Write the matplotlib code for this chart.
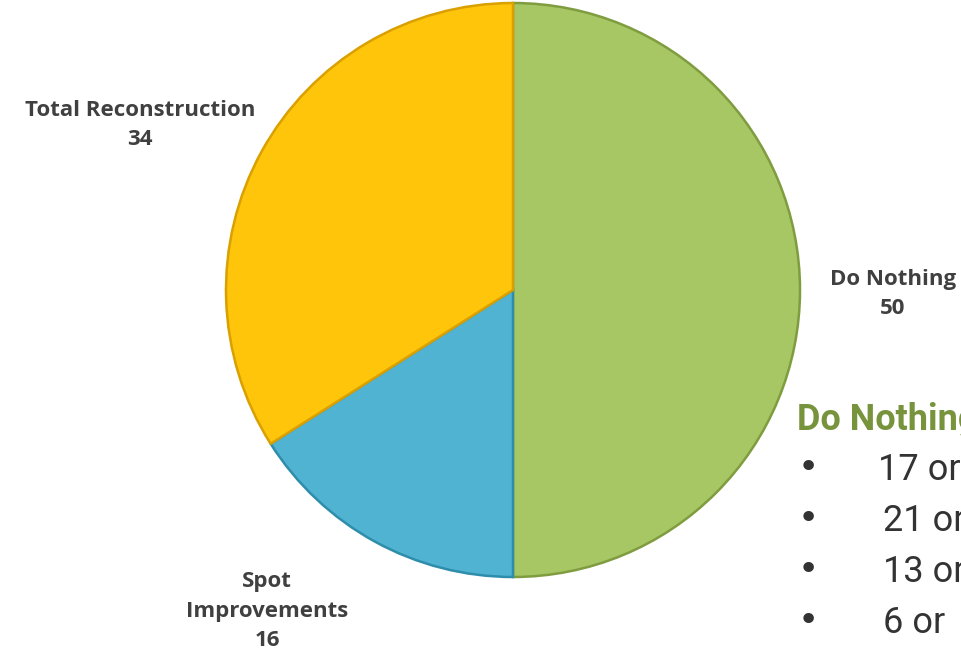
import matplotlib.pyplot as plt

# pie data
labels = ['Do Nothing', 'Spot\nImprovements', 'Total Reconstruction']
values = [50, 16, 34]
colors = ['#A7C765', '#4FB3D1', '#FFC50A']
edges = ['#7F9C3F', '#2E8DAB', '#D9A000']

# side text (cut off at the right edge in the original)
side_title = 'Do Nothing'
side_items = ['17 or', '21 or', '13 or', '6 or']

W, H = 961, 658
fig = plt.figure(figsize=(W / 100, H / 100), dpi=100)
ax = fig.add_axes([0, 0, 1, 1])

def yy(y):
    # image row -> data y
    return H - y

wedges, _ = ax.pie(values, colors=colors, startangle=90, counterclock=False,
                   center=(513, yy(290)), radius=287, frame=True,
                   wedgeprops=dict(linewidth=1.8))
for w, ec in zip(wedges, edges):
    w.set_edgecolor(ec)
ax.set_xlim(0, W)
ax.set_ylim(0, H)
ax.set_aspect('equal')
ax.axis('off')

lab_font = dict(family='Open Sans', weight='bold', color='#404040',
                fontsize=16, ha='center', va='center', linespacing=1.55)
ax.text(893, yy(294), f'{labels[0]}\n{values[0]}', **lab_font)
ax.text(267, yy(611), f'{labels[1]}\n{values[1]}', **lab_font)
ax.text(140, yy(125), f'{labels[2]}\n{values[2]}', **lab_font)

ax.text(797, yy(420), side_title, family='Roboto', weight='bold', color='#77933C',
        fontsize=26, ha='left', va='center')
for i, item in enumerate(side_items):
    y = yy(470 + i * 51)
    ax.text(808, y + 2, '\u2022', family='DejaVu Sans', color='#333333',
            fontsize=26, ha='center', va='center')
    x0 = 878 if i == 0 else 883
    ax.text(x0, y, item, family='Roboto', color='#333333',
            fontsize=26, ha='left', va='center')

fig.savefig('out.png', dpi=100)
